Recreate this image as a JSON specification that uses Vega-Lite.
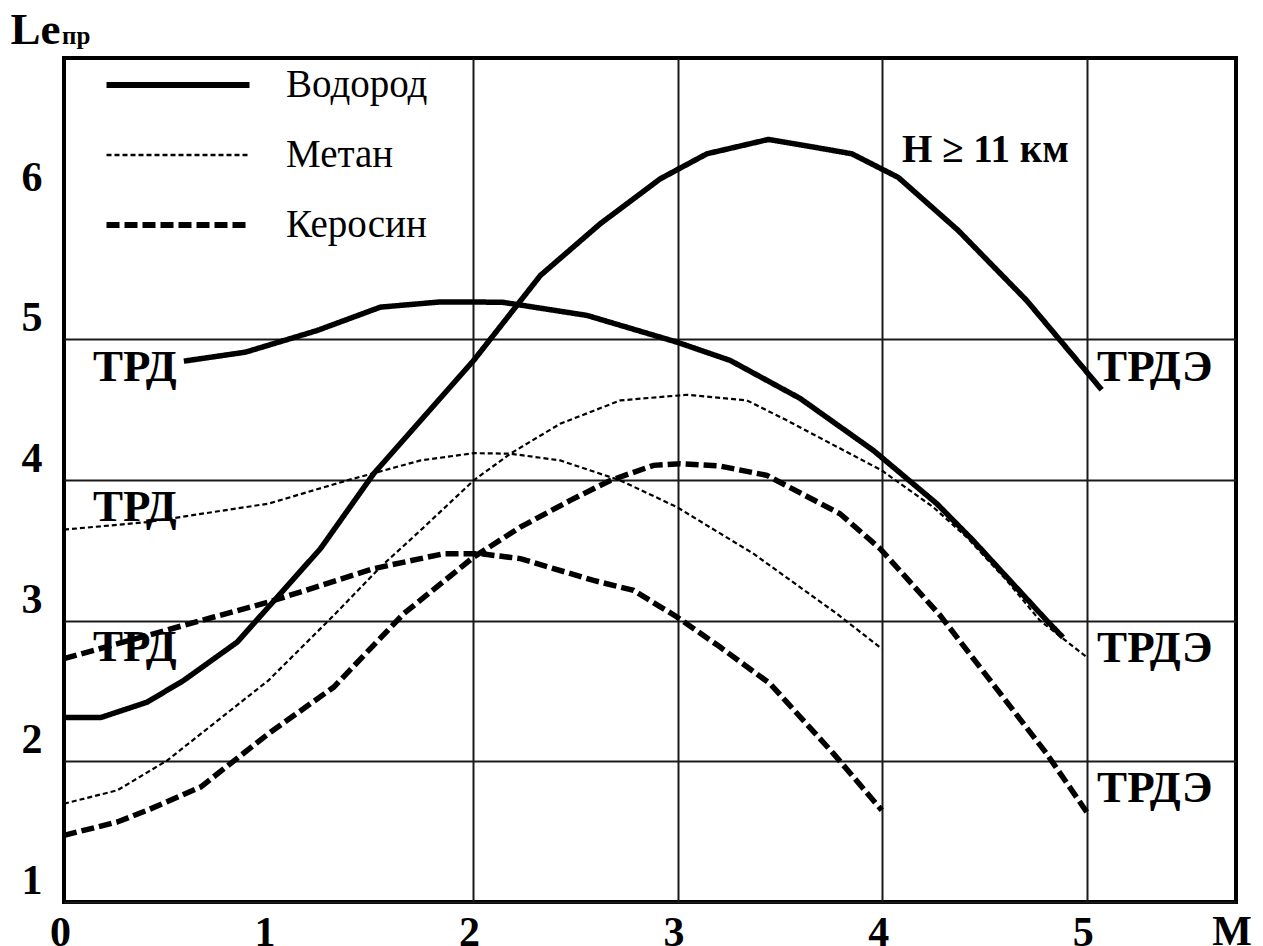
{
  "$schema": "https://vega.github.io/schema/vega-lite/v6.json",
  "width": 1172,
  "height": 844,
  "autosize": {"type": "none"},
  "padding": {"left": 64, "top": 58, "right": 27, "bottom": 44},
  "background": "white",
  "title": {"text": "пр", "anchor": "start", "frame": "group", "font": "Liberation Serif", "fontSize": 25, "fontWeight": "bold", "color": "black", "dx": -2, "offset": -62, "baseline": "alphabetic"},
  "datasets": {
    "curves": [
      {"fuel": "Водород", "engine": "ТРД", "M": 0.586, "Le": 4.845},
      {"fuel": "Водород", "engine": "ТРД", "M": 0.888, "Le": 4.909},
      {"fuel": "Водород", "engine": "ТРД", "M": 1.238, "Le": 5.063},
      {"fuel": "Водород", "engine": "ТРД", "M": 1.547, "Le": 5.229},
      {"fuel": "Водород", "engine": "ТРД", "M": 1.84, "Le": 5.266},
      {"fuel": "Водород", "engine": "ТРД", "M": 2.142, "Le": 5.264},
      {"fuel": "Водород", "engine": "ТРД", "M": 2.557, "Le": 5.17},
      {"fuel": "Водород", "engine": "ТРД", "M": 2.997, "Le": 4.98},
      {"fuel": "Водород", "engine": "ТРД", "M": 3.257, "Le": 4.85},
      {"fuel": "Водород", "engine": "ТРД", "M": 3.599, "Le": 4.58},
      {"fuel": "Водород", "engine": "ТРД", "M": 3.957, "Le": 4.21},
      {"fuel": "Водород", "engine": "ТРД", "M": 4.267, "Le": 3.832},
      {"fuel": "Водород", "engine": "ТРД", "M": 4.444, "Le": 3.571},
      {"fuel": "Водород", "engine": "ТРД", "M": 4.609, "Le": 3.31},
      {"fuel": "Водород", "engine": "ТРД", "M": 4.804, "Le": 3.002},
      {"fuel": "Водород", "engine": "ТРД", "M": 4.884, "Le": 2.881},
      {"fuel": "Водород", "engine": "ТРДЭ", "M": 0, "Le": 2.311},
      {"fuel": "Водород", "engine": "ТРДЭ", "M": 0.179, "Le": 2.311},
      {"fuel": "Водород", "engine": "ТРДЭ", "M": 0.407, "Le": 2.421},
      {"fuel": "Водород", "engine": "ТРДЭ", "M": 0.586, "Le": 2.576},
      {"fuel": "Водород", "engine": "ТРДЭ", "M": 0.847, "Le": 2.848},
      {"fuel": "Водород", "engine": "ТРДЭ", "M": 1.254, "Le": 3.512},
      {"fuel": "Водород", "engine": "ТРДЭ", "M": 1.514, "Le": 4.045},
      {"fuel": "Водород", "engine": "ТРДЭ", "M": 2.003, "Le": 4.85},
      {"fuel": "Водород", "engine": "ТРДЭ", "M": 2.329, "Le": 5.454},
      {"fuel": "Водород", "engine": "ТРДЭ", "M": 2.622, "Le": 5.822},
      {"fuel": "Водород", "engine": "ТРДЭ", "M": 2.915, "Le": 6.141},
      {"fuel": "Водород", "engine": "ТРДЭ", "M": 3.143, "Le": 6.319},
      {"fuel": "Водород", "engine": "ТРДЭ", "M": 3.444, "Le": 6.421},
      {"fuel": "Водород", "engine": "ТРДЭ", "M": 3.648, "Le": 6.371},
      {"fuel": "Водород", "engine": "ТРДЭ", "M": 3.852, "Le": 6.319},
      {"fuel": "Водород", "engine": "ТРДЭ", "M": 4.079, "Le": 6.151},
      {"fuel": "Водород", "engine": "ТРДЭ", "M": 4.372, "Le": 5.774},
      {"fuel": "Водород", "engine": "ТРДЭ", "M": 4.706, "Le": 5.277},
      {"fuel": "Водород", "engine": "ТРДЭ", "M": 5.073, "Le": 4.642},
      {"fuel": "Метан", "engine": "ТРД", "M": 0, "Le": 3.647},
      {"fuel": "Метан", "engine": "ТРД", "M": 0.407, "Le": 3.701},
      {"fuel": "Метан", "engine": "ТРД", "M": 1.0, "Le": 3.832},
      {"fuel": "Метан", "engine": "ТРД", "M": 1.384, "Le": 3.997},
      {"fuel": "Метан", "engine": "ТРД", "M": 1.743, "Le": 4.139},
      {"fuel": "Метан", "engine": "ТРД", "M": 2.003, "Le": 4.191},
      {"fuel": "Метан", "engine": "ТРД", "M": 2.182, "Le": 4.187},
      {"fuel": "Метан", "engine": "ТРД", "M": 2.426, "Le": 4.139},
      {"fuel": "Метан", "engine": "ТРД", "M": 2.72, "Le": 3.997},
      {"fuel": "Метан", "engine": "ТРД", "M": 2.997, "Le": 3.807},
      {"fuel": "Метан", "engine": "ТРД", "M": 3.371, "Le": 3.476},
      {"fuel": "Метан", "engine": "ТРД", "M": 3.778, "Le": 3.05},
      {"fuel": "Метан", "engine": "ТРД", "M": 3.998, "Le": 2.801},
      {"fuel": "Метан", "engine": "ТРДЭ", "M": 0, "Le": 1.699},
      {"fuel": "Метан", "engine": "ТРДЭ", "M": 0.261, "Le": 1.794},
      {"fuel": "Метан", "engine": "ТРДЭ", "M": 0.505, "Le": 2.007},
      {"fuel": "Метан", "engine": "ТРДЭ", "M": 1.0, "Le": 2.576},
      {"fuel": "Метан", "engine": "ТРДЭ", "M": 1.319, "Le": 3.038},
      {"fuel": "Метан", "engine": "ТРДЭ", "M": 1.547, "Le": 3.381},
      {"fuel": "Метан", "engine": "ТРДЭ", "M": 1.743, "Le": 3.642},
      {"fuel": "Метан", "engine": "ТРДЭ", "M": 2.003, "Le": 3.997},
      {"fuel": "Метан", "engine": "ТРДЭ", "M": 2.182, "Le": 4.187},
      {"fuel": "Метан", "engine": "ТРДЭ", "M": 2.426, "Le": 4.4},
      {"fuel": "Метан", "engine": "ТРДЭ", "M": 2.72, "Le": 4.566},
      {"fuel": "Метан", "engine": "ТРДЭ", "M": 3.045, "Le": 4.606},
      {"fuel": "Метан", "engine": "ТРДЭ", "M": 3.339, "Le": 4.566},
      {"fuel": "Метан", "engine": "ТРДЭ", "M": 3.534, "Le": 4.424},
      {"fuel": "Метан", "engine": "ТРДЭ", "M": 3.998, "Le": 4.068},
      {"fuel": "Метан", "engine": "ТРДЭ", "M": 4.25, "Le": 3.807},
      {"fuel": "Метан", "engine": "ТРДЭ", "M": 4.413, "Le": 3.594},
      {"fuel": "Метан", "engine": "ТРДЭ", "M": 4.609, "Le": 3.286},
      {"fuel": "Метан", "engine": "ТРДЭ", "M": 4.771, "Le": 3.002},
      {"fuel": "Метан", "engine": "ТРДЭ", "M": 5.0, "Le": 2.741},
      {"fuel": "Керосин", "engine": "ТРД", "M": 0, "Le": 2.73},
      {"fuel": "Керосин", "engine": "ТРД", "M": 0.733, "Le": 3.026},
      {"fuel": "Керосин", "engine": "ТРД", "M": 1.0, "Le": 3.132},
      {"fuel": "Керосин", "engine": "ТРД", "M": 1.514, "Le": 3.37},
      {"fuel": "Керосин", "engine": "ТРД", "M": 1.856, "Le": 3.476},
      {"fuel": "Керосин", "engine": "ТРД", "M": 2.036, "Le": 3.476},
      {"fuel": "Керосин", "engine": "ТРД", "M": 2.231, "Le": 3.441},
      {"fuel": "Керосин", "engine": "ТРД", "M": 2.589, "Le": 3.286},
      {"fuel": "Керосин", "engine": "ТРД", "M": 2.785, "Le": 3.215},
      {"fuel": "Керосин", "engine": "ТРД", "M": 2.997, "Le": 3.026},
      {"fuel": "Керосин", "engine": "ТРД", "M": 3.208, "Le": 2.812},
      {"fuel": "Керосин", "engine": "ТРД", "M": 3.452, "Le": 2.552},
      {"fuel": "Керосин", "engine": "ТРД", "M": 3.762, "Le": 2.055},
      {"fuel": "Керосин", "engine": "ТРД", "M": 3.998, "Le": 1.652},
      {"fuel": "Керосин", "engine": "ТРДЭ", "M": 0, "Le": 1.474},
      {"fuel": "Керосин", "engine": "ТРДЭ", "M": 0.261, "Le": 1.569},
      {"fuel": "Керосин", "engine": "ТРДЭ", "M": 0.407, "Le": 1.652},
      {"fuel": "Керосин", "engine": "ТРДЭ", "M": 0.668, "Le": 1.817},
      {"fuel": "Керосин", "engine": "ТРДЭ", "M": 1.0, "Le": 2.197},
      {"fuel": "Керосин", "engine": "ТРДЭ", "M": 1.319, "Le": 2.528},
      {"fuel": "Керосин", "engine": "ТРДЭ", "M": 1.661, "Le": 3.05},
      {"fuel": "Керосин", "engine": "ТРДЭ", "M": 2.003, "Le": 3.452},
      {"fuel": "Керосин", "engine": "ТРДЭ", "M": 2.231, "Le": 3.665},
      {"fuel": "Керосин", "engine": "ТРДЭ", "M": 2.475, "Le": 3.855},
      {"fuel": "Керосин", "engine": "ТРДЭ", "M": 2.671, "Le": 3.997},
      {"fuel": "Керосин", "engine": "ТРДЭ", "M": 2.882, "Le": 4.104},
      {"fuel": "Керосин", "engine": "ТРДЭ", "M": 3.013, "Le": 4.116},
      {"fuel": "Керосин", "engine": "ТРДЭ", "M": 3.208, "Le": 4.099},
      {"fuel": "Керосин", "engine": "ТРДЭ", "M": 3.436, "Le": 4.033},
      {"fuel": "Керосин", "engine": "ТРДЭ", "M": 3.794, "Le": 3.76},
      {"fuel": "Керосин", "engine": "ТРДЭ", "M": 3.99, "Le": 3.512},
      {"fuel": "Керосин", "engine": "ТРДЭ", "M": 4.283, "Le": 3.038},
      {"fuel": "Керосин", "engine": "ТРДЭ", "M": 4.804, "Le": 2.055},
      {"fuel": "Керосин", "engine": "ТРДЭ", "M": 5.0, "Le": 1.64}
    ],
    "labels": [
      {"label": "ТРД", "M": 0.142, "Le": 4.805},
      {"label": "ТРД", "M": 0.142, "Le": 3.808},
      {"label": "ТРД", "M": 0.142, "Le": 2.813},
      {"label": "ТРДЭ", "M": 5.051, "Le": 4.805},
      {"label": "ТРДЭ", "M": 5.051, "Le": 2.806},
      {"label": "ТРДЭ", "M": 5.051, "Le": 1.81},
      {"label": "H ≥ 11 км", "M": 4.097, "Le": 6.346}
    ]
  },
  "encoding": {
    "x": {
      "field": "M", "type": "quantitative",
      "scale": {"domain": [0, 5.73], "nice": false, "zero": false},
      "axis": {
        "values": [0, 1, 2, 3, 4, 5],
        "title": "M",
        "titleX": 1167.7, "titleY": 42, "titleAlign": "center", "titleBaseline": "alphabetic",
        "titleFont": "Liberation Serif", "titleFontSize": 42, "titleFontWeight": "bold", "titleColor": "black",
        "labelFont": "Liberation Serif", "labelFontSize": 42, "labelFontWeight": "bold", "labelColor": "black",
        "labelPadding": 10, "labelBaseline": "top", "labelOffset": -4, "labelFlush": false, "labelOverlap": false, "labelBound": false,
        "gridOpacity": {"condition": {"test": "datum.value < 1.5", "value": 0}, "value": 1}
      }
    },
    "y": {
      "field": "Le", "type": "quantitative",
      "scale": {"domain": [1, 7], "nice": false, "zero": false},
      "axis": {
        "values": [1, 2, 3, 4, 5, 6],
        "title": "Le",
        "titleAngle": 0, "titleX": -54, "titleY": -14.7, "titleAlign": "left", "titleBaseline": "alphabetic",
        "titleFont": "Liberation Serif", "titleFontSize": 45, "titleFontWeight": "bold", "titleColor": "black",
        "labelFont": "Liberation Serif", "labelFontSize": 42, "labelFontWeight": "bold", "labelColor": "black",
        "labelPadding": 22, "labelOffset": -21.5, "labelAlign": "right", "labelBaseline": "middle", "labelFlush": false, "labelOverlap": false, "labelBound": false,
        "gridOpacity": {"condition": {"test": "datum.value > 5.5", "value": 0}, "value": 1}
      }
    }
  },
  "layer": [
    {
      "data": {"values": [{}]},
      "mark": {"type": "rule", "color": "#1a1a1a", "strokeWidth": 2},
      "encoding": {"x": {"datum": 1}, "y": {"datum": 1}, "y2": {"datum": 5}}
    },
    {
      "data": {"values": [{}]},
      "mark": {"type": "rule", "color": "#1a1a1a", "strokeWidth": 2},
      "encoding": {"x": {"datum": 2}, "x2": {"datum": 5.73}, "y": {"datum": 6}}
    },
    {
      "data": {"name": "curves"},
      "mark": {"type": "line", "color": "black", "strokeJoin": "miter"},
      "encoding": {
        "detail": {"field": "engine", "type": "nominal"},
        "strokeDash": {
          "field": "fuel", "type": "nominal",
          "scale": {"domain": ["Водород", "Метан", "Керосин"], "range": [[1, 0], [5, 3], [13, 5]]},
          "legend": {
            "title": null, "orient": "none", "legendX": 2, "legendY": 8,
            "symbolType": "stroke", "symbolSize": 20449, "symbolStrokeColor": "black", "symbolStrokeWidth": 6, "symbolOffset": 92.5,
            "clipHeight": 38, "padding": 0, "rowPadding": 31,
            "labelFont": "Liberation Serif", "labelFontSize": 39, "labelColor": "black", "labelOffset": 88.5, "labelLimit": 400,
            "encode": {"symbols": {"update": {"strokeWidth": {"signal": "datum.value === 'Метан' ? 2.5 : 6"}, "stroke": {"value": "black"}}}}
          }
        },
        "strokeWidth": {"condition": {"test": "datum.fuel === 'Метан'", "value": 2.2}, "value": 5.5}
      }
    },
    {
      "data": {"name": "labels"},
      "mark": {"type": "text", "align": "left", "baseline": "middle", "font": "Liberation Serif", "fontWeight": "bold", "color": "black"},
      "encoding": {
        "text": {"field": "label", "type": "nominal"},
        "size": {"condition": {"test": "datum.label === 'H ≥ 11 км'", "value": 39}, "value": 45}
      }
    }
  ],
  "config": {
    "view": {"stroke": "black", "strokeWidth": 4},
    "axis": {"grid": true, "gridColor": "#1a1a1a", "gridWidth": 2, "ticks": false, "domain": false},
    "font": "Liberation Serif"
  }
}
